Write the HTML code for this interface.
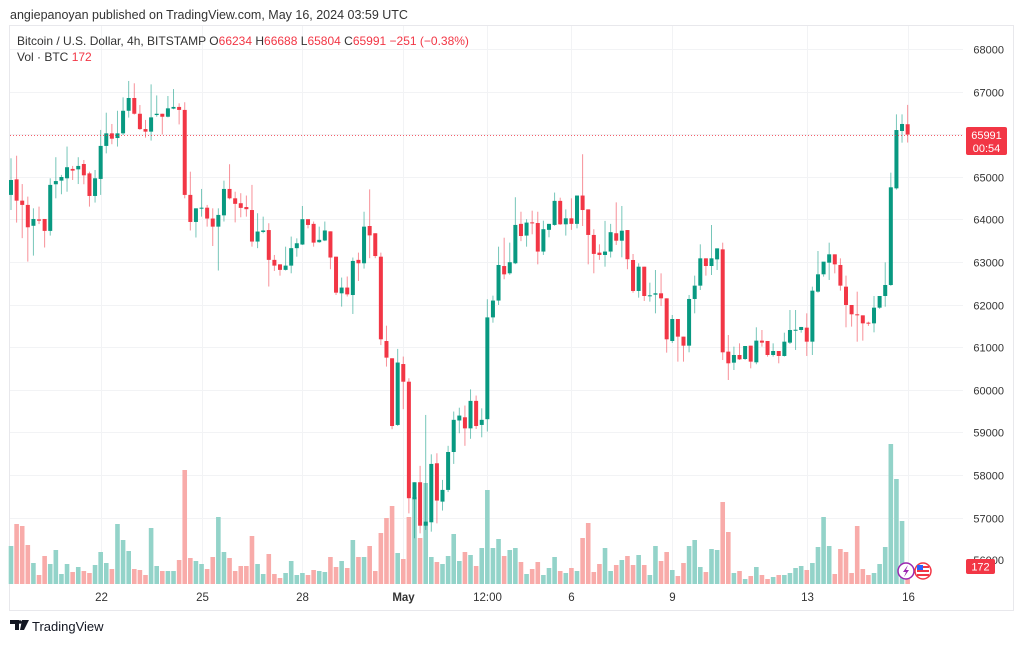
<!DOCTYPE html>
<html><head><meta charset="utf-8">
<style>
html,body{margin:0;padding:0;background:#fff;}
body{width:1024px;height:643px;overflow:hidden;font-family:"Liberation Sans",sans-serif;}
svg text{font-family:"Liberation Sans",sans-serif;}
</style></head>
<body>
<svg id="chart" width="1024" height="643" viewBox="0 0 1024 643" xmlns="http://www.w3.org/2000/svg">
  <text x="10" y="19" font-size="12.5" fill="#333">angiepanoyan published on TradingView.com, May 16, 2024 03:59 UTC</text>
  <rect x="9.5" y="25.5" width="1004" height="585" fill="none" stroke="#e8e8ec"/>
  <g id="grid"></g>
  <g id="vols"></g>
  <g id="candles"></g>
  <line id="lastLine" x1="10" x2="963" stroke="#f23645" stroke-width="1" stroke-dasharray="1,2" opacity="0.8"/>
  <g id="yaxis"></g>
  <g id="xaxis"></g>
  <text x="17" y="45" font-size="12" fill="#333">Bitcoin / U.S. Dollar, 4h, BITSTAMP <tspan fill="#333">O</tspan><tspan fill="#f23645">66234</tspan> <tspan fill="#333"> H</tspan><tspan fill="#f23645">66688</tspan> <tspan fill="#333"> L</tspan><tspan fill="#f23645">65804</tspan> <tspan fill="#333"> C</tspan><tspan fill="#f23645">65991</tspan><tspan fill="#f23645">  −251 (−0.38%)</tspan></text>
  <text x="17" y="61" font-size="12" fill="#333">Vol · BTC <tspan fill="#f23645"> 172</tspan></text>
  <g>
    <rect x="966" y="127" width="41" height="28" rx="2" fill="#f23645"/>
    <text x="986.5" y="139" font-size="11" fill="#fff" text-anchor="middle">65991</text>
    <text x="986.5" y="152" font-size="11" fill="#fff" text-anchor="middle">00:54</text>
  </g>
  <g>
    <rect x="966" y="559" width="29" height="15" rx="2" fill="#f23645"/>
    <text x="980.5" y="570.5" font-size="11" fill="#fff" text-anchor="middle">172</text>
  </g>
  <g>
    <circle cx="906" cy="571" r="8" fill="#fff" stroke="#9c27b0" stroke-width="1.5"/>
    <path d="M908 565 L903 572 L906 572 L904 577 L909 570 L906 570 Z" fill="#9c27b0"/>
  </g>
  <g>
    <circle cx="923" cy="571" r="8" fill="#fff" stroke="#f23645" stroke-width="1.5"/>
    <rect x="917" y="566" width="12" height="2" fill="#f23645"/><rect x="917" y="570" width="12" height="2" fill="#f23645"/><rect x="917" y="574" width="12" height="2" fill="#f23645"/>
    <rect x="917" y="565" width="6" height="5" fill="#2962ff"/>
  </g>
  <g>
    <path d="M10 620 H19 V630 H15 V624 H10 Z M22 620 L29 620 L24 630 L20 630 Z" fill="#131722"/>
    <circle cx="20" cy="622" r="1.8" fill="#131722"/>
    <text x="32" y="631" font-size="13" fill="#131722">TradingView</text>
  </g>
</svg>
<script>
const opens=[64575,64940,64440,64340,63850,64000,64010,63730,64825,64910,
64965,65185,65175,65300,65080,64550,64950,65725,66020,65910,
66020,66550,66850,66480,66120,66060,66450,66480,66410,66600,
66640,66570,64575,63940,64260,64275,64020,63830,64095,64715,
64495,64380,64290,64220,63480,63705,63750,63050,62945,62815,
62915,63325,63410,64005,63895,63465,63505,63720,63125,62265,
62400,62225,63050,62970,63845,63675,63125,61145,60740,59175,
60605,60190,57430,57830,56810,56890,58275,57375,57650,58540,
59280,59355,59095,59740,59175,59310,61700,62095,62905,62735,
62970,63895,63620,63930,63915,63245,63755,63870,64435,63885,
64025,63895,64560,64235,63635,63220,63165,63245,63675,63500,
63750,63047,62320,62890,62202,62233,62265,62147,61146,61662,
61248,61036,62132,62445,63086,62906,63062,63297,60896,60637,
60817,60723,61036,60645,61154,61146,60817,60911,60794,61107,
61390,61404,61459,61130,62304,62711,62984,63180,62930,62421,
61991,61772,61748,61576,61560,61928,62202,62460,64729,66075,
66234];
const highs=[65435,65495,64830,64535,64260,64300,64010,64965,65460,65045,
65710,65255,65460,65395,65120,65160,66100,66505,66240,66550,
66865,67250,67195,66685,66335,67170,66910,66480,66897,67060,
66725,66750,65120,64260,64715,64340,64260,64260,64910,65295,
64650,64615,64560,64810,64145,64065,63910,63165,62945,63360,
63597,63555,64315,64005,63950,63830,63950,63720,63125,62635,
62660,63105,63220,64180,64705,63675,63220,61505,60740,60960,
60780,60270,57830,58215,59410,58485,58510,57885,58685,59490,
59580,59630,60010,59865,59565,62125,62210,63360,63570,63455,
64520,64180,64005,64205,64180,63970,63895,64630,64510,64235,
64495,64560,65530,64235,63770,63415,63965,63895,64400,64315,
63750,63188,62970,62890,62515,62812,62734,62147,61756,61662,
61248,62226,62680,63415,63086,63868,63320,63454,61286,61013,
61091,61028,61036,61467,61404,61146,61091,60911,61341,61873,
61873,61475,61795,62421,63258,62711,63454,63180,63086,62680,
61991,62304,61748,61600,62202,62202,62992,65097,66466,66466,
66688];
const lows=[64220,63925,63560,63010,63150,63890,63340,63620,64495,64590,
64650,64925,64830,64825,64300,64395,64575,65550,65765,65710,
65980,66390,66460,66100,65920,65850,66410,65995,66395,66585,
66230,64495,63740,63575,64065,63830,63375,62800,63950,64470,
63930,64050,64065,63360,63325,63675,62425,62790,62680,62800,
62735,63125,63400,63790,63360,63450,63490,62830,62225,61953,
62190,61780,62555,62845,63090,63090,61050,60545,59075,59150,
59545,57100,56515,56630,56710,56670,56865,57165,57600,58260,
58980,58685,58850,59080,58885,59020,61575,61990,62595,62700,
62950,63490,63360,63650,62945,63165,63580,63850,63870,63620,
63755,63790,63845,62945,62735,63050,62890,63105,63400,63110,
62830,62280,62163,62085,62070,61795,61967,60872,61100,60661,
60661,60880,61795,62343,62680,62695,62812,60700,60230,60465,
60700,60700,60504,60600,61013,60778,60780,60622,60780,61075,
60935,61341,60794,60817,62280,62656,62578,62734,62327,61467,
61483,61130,61154,61500,61349,61900,61951,62440,64700,65801,
65804];
const closes=[64925,64440,64340,63815,64010,63970,63730,64810,64900,64995,
65225,65145,65255,65035,64550,64965,65725,66020,65895,66020,
66550,66850,66480,66120,66060,66395,66480,66410,66607,66640,
66570,64575,63940,64260,64275,64020,63830,64105,64715,64495,
64365,64270,64240,63480,63715,63740,63050,62915,62815,62915,
63325,63440,64005,63870,63455,63520,63740,63105,62280,62400,
62240,63025,62970,63830,63625,63140,61185,60755,59150,60640,
60190,57455,57830,56810,56905,58260,57400,57650,58540,59295,
59395,59095,59740,59150,59295,61700,62095,62930,62710,62995,
63870,63610,63925,63910,63245,63770,63895,64435,63885,64025,
63895,64560,64220,63635,63190,63165,63245,63700,63500,63735,
63065,62320,62890,62202,62218,62265,62147,61185,61662,61248,
61036,62132,62445,63086,62906,63086,63320,60880,60622,60817,
60715,61028,60661,61154,61107,60817,60911,60794,61130,61404,
61410,61475,61130,62327,62711,63008,63180,62945,62445,61991,
61772,61756,61560,61553,61928,62202,62460,64753,66098,66240,
65991];
const volumes=[38,60,58,39,21,9,28,20,34,10,
20,12,17,13,11,19,32,21,15,60,
44,33,15,14,9,56,18,13,13,13,
24,114,26,23,20,15,27,67,32,26,
13,18,18,48,20,10,30,10,6,11,
23,9,11,9,14,13,12,27,17,23,
16,44,27,27,38,13,51,66,78,31,
25,67,87,46,101,27,22,20,28,50,
23,32,29,18,36,94,36,45,28,34,
36,22,10,15,22,9,16,27,13,11,
16,13,46,61,12,20,36,13,19,24,
28,19,29,19,9,38,23,32,14,8,
21,38,44,17,12,35,34,82,52,11,
13,5,8,17,9,5,7,9,9,11,
16,18,14,21,37,67,38,10,35,32,
11,58,15,9,11,20,37,140,105,63,
5];
const priceTicks=[57000,58000,59000,60000,61000,62000,63000,64000,65000,66000,67000,68000];
const timeTickLabels=["22","25","28","May","12:00","6","9","13","16"];
const timeTickIndex=[16,34,52,70,85,100,118,142,160];
const lastPrice=65991;

const NS="http://www.w3.org/2000/svg";
function yP(p){return 49+(68000-p)*0.0426;}
function xI(i){return 11+i*5.604;}
function yV(v){return 584-v;}
function mk(tag,attrs,parent){const e=document.createElementNS(NS,tag);for(const k in attrs)e.setAttribute(k,attrs[k]);parent.appendChild(e);return e;}

const grid=document.getElementById('grid');
const yaxis=document.getElementById('yaxis');
priceTicks.forEach(p=>{
  const y=Math.round(yP(p))+0.5;
  const l=mk('line',{x1:10,x2:963,y1:y,y2:y,stroke:'#f2f3f5','stroke-width':1},grid);
  
  
  const t=mk('text',{x:1004,y:y+4,'font-size':11,fill:'#333','text-anchor':'end'},yaxis);
  t.textContent=p;
  
  
});
{const t=mk('text',{x:1004,y:564,'font-size':11,fill:'#333','text-anchor':'end'},yaxis);
t.textContent='56000';

}
const xaxis=document.getElementById('xaxis');
timeTickLabels.forEach((lab,k)=>{
  const x=Math.round(xI(timeTickIndex[k]))+0.5;
  const l=mk('line',{x1:x,x2:x,y1:26,y2:584,stroke:'#f2f3f5','stroke-width':1},grid);
  
  
  const t=mk('text',{x:x,y:601,'font-size':11.5,fill:'#333','text-anchor':'middle','font-weight':lab==='May'?'bold':'normal'},xaxis);
  t.textContent=lab;
  
  
});
const vg=document.getElementById('vols');
const cg=document.getElementById('candles');
opens.forEach((o,i)=>{
  const c=closes[i],up=c>=o,x=xI(i);
  const vb=mk('rect',{x:x-2.3,y:yV(volumes[i]),width:4.6,height:volumes[i],fill:up?'#93d3c9':'#f8aba9'},vg);
  
  
  const col=up?'#089981':'#f23645';
  const w=mk('line',{x1:x,x2:x,y1:yP(highs[i]),y2:yP(lows[i]),stroke:col,'stroke-width':1,opacity:0.55},cg);
  
  
  const top=yP(Math.max(o,c)),h=Math.max(1,yP(Math.min(o,c))-top);
  const b=mk('rect',{x:x-2,y:top,width:4,height:h,fill:col},cg);
  
  
});
const ll=document.getElementById('lastLine');
ll.setAttribute('y1',Math.round(yP(lastPrice))+0.5);
ll.setAttribute('y2',Math.round(yP(lastPrice))+0.5);
</script>
</body></html>
